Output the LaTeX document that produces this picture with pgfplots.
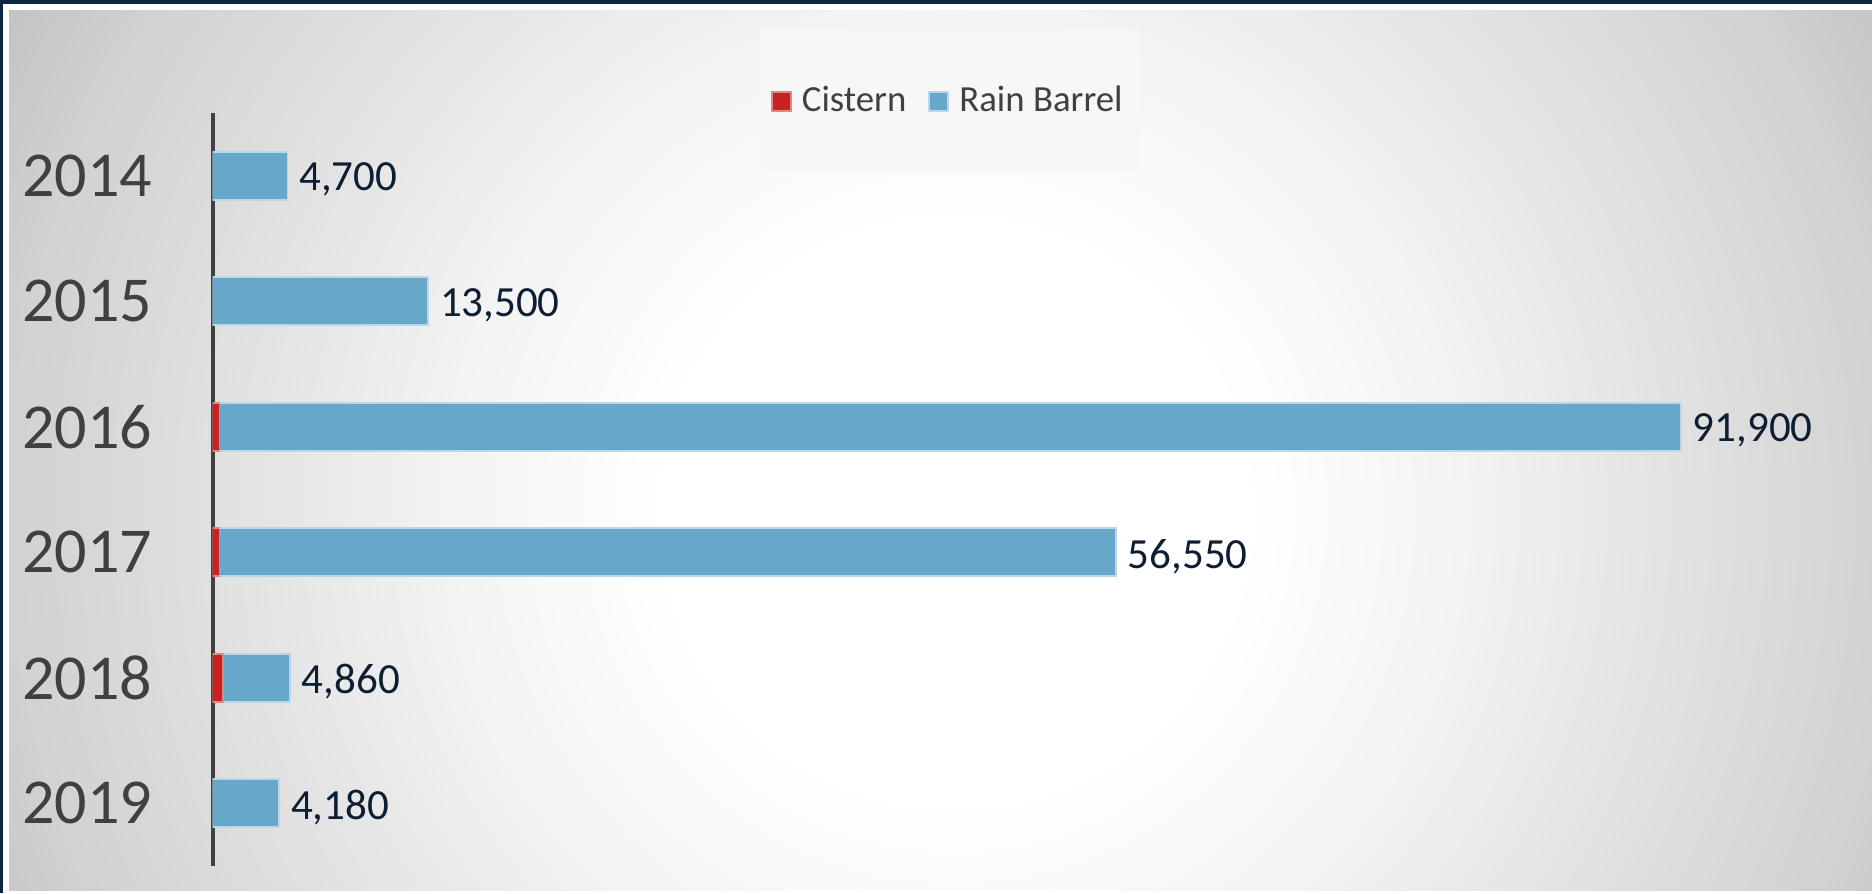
\documentclass[border=0pt]{standalone}
\usepackage{fontspec}
\setmainfont{Carlito}
\usepackage{pgfplots}
\pgfplotsset{compat=1.18}
\usepackage{pgfplotstable}

\definecolor{navy}{HTML}{0E2744}
\definecolor{barblue}{HTML}{67A7C9}
\definecolor{cisred}{HTML}{C82222}
\definecolor{labelgray}{HTML}{404040}
\definecolor{valnavy}{HTML}{0D1E33}
\definecolor{legfill}{HTML}{F7F7F7}

% cistern is the small red part; total is shown as the label
\pgfplotstableread{
idx cistern barrel total label
0   0    4700  4700  4,700
1   0    13500 13500 13,500
2   450  91450 91900 91,900
3   450  56100 56550 56,550
4   650  4210  4860  4,860
5   0    4180  4180  4,180
}\datatable

\pgfplotsset{frame/.style={
  at={(53.125pt,-28.25pt)}, anchor=north west,
  scale only axis, width=399.5pt, height=188.25pt,
  xmin=0, xmax=100000,
  ymin=-0.5, ymax=5.5, y dir=reverse}}

\begin{document}
\begin{tikzpicture}[x=1pt,y=1pt]
\useasboundingbox (0,0) rectangle (468,-223.25);
\fill[navy] (0,0) rectangle (468,-223.25);
\fill[white] (0.75,-1.1) rectangle (468,-223.25);
% radial background: white centre, grey edges
\begin{scope}
\clip (2.3,-2.7) rectangle (468,-222.6);
\foreach \i in {0,...,137} {
  \pgfmathsetmacro\r{275-2*\i}
  \pgfmathsetmacro\p{4*\r}
  \pgfmathsetmacro\g{\p<=300 ? 1 : (\p<=520 ? 1-0.05*(\p-300)/220 : (\p<=780 ? 0.95-0.08*(\p-520)/260 : (\p<=955 ? 0.87-0.05*(\p-780)/175 : 0.82-0.065*(\p-955)/145)))}
  \definecolor{gc}{gray}{\g}
  \fill[gc] (238.75,-128.25) circle (\r);
}
\end{scope}
\begin{axis}[frame,
  xbar stacked, bar width=12pt,
  axis y line*=left, axis x line=none,
  y axis line style={draw=labelgray, line width=1pt, -},
  xtick=\empty,
  ytick={0,...,5}, yticklabels={2014,2015,2016,2017,2018,2019},
  major tick length=0pt,
  yticklabel style={font=\fontsize{16}{16}\selectfont, text=labelgray, inner sep=0pt, xshift=-14.9pt},
  legend style={at={(0.462,1.0153)}, anchor=center, fill=legfill, draw=none,
    font=\fontsize{9.2}{11}\selectfont, text=labelgray,
    inner xsep=2.4pt, inner ysep=12pt,
    /tikz/every odd column/.append style={column sep=0.6pt},
    /tikz/every even column/.append style={column sep=3.5pt}},
  legend columns=2,
  legend image code/.code={\draw[#1] (0pt,-2.375pt) rectangle (4.75pt,2.375pt);},
]
\addplot[fill=cisred, draw=cisred!55!white, line width=0.4pt]
  table[x=cistern, y=idx] {\datatable};
\addplot[fill=barblue, draw=barblue!45!white, line width=0.4pt]
  table[x=barrel, y=idx] {\datatable};
\legend{Cistern, Rain Barrel}
\end{axis}
% labels at the end of each stack
\begin{axis}[frame, hide axis]
\addplot[draw=none, mark=none,
  nodes near coords, point meta=explicit symbolic,
  every node near coord/.append style={anchor=west, inner sep=0pt, xshift=2.75pt, yshift=-1pt,
    font=\fontsize{10.75}{12}\selectfont, text=valnavy}]
  table[x=total, y=idx, meta=label] {\datatable};
\end{axis}
\end{tikzpicture}
\end{document}
